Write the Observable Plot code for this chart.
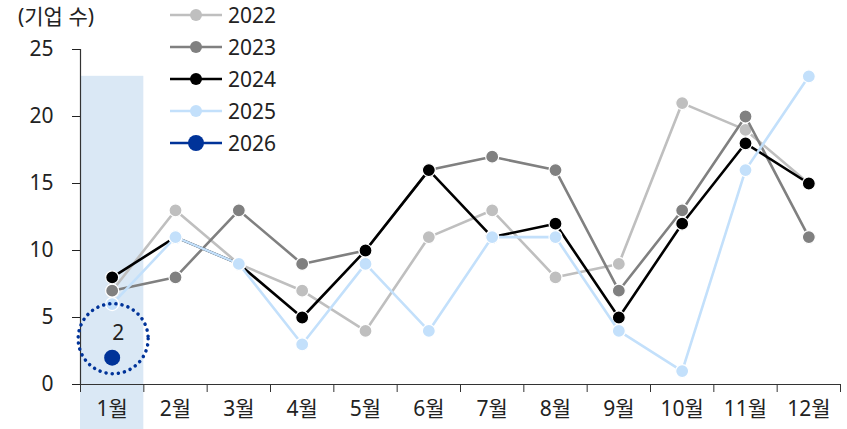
<!DOCTYPE html>
<html>
<head>
<meta charset="utf-8">
<script src="https://cdn.jsdelivr.net/npm/d3@7"></script>
<script src="https://cdn.jsdelivr.net/npm/@observablehq/plot@0.6"></script>
<style>
  html, body { margin: 0; padding: 0; background: #fff; }
  #chart { position: relative; width: 847px; height: 429px; }
  svg { font-family: "Noto Sans", "Noto Sans CJK KR", sans-serif; }
</style>
</head>
<body>
<div id="chart"></div>
<script>
const months = ["1월","2월","3월","4월","5월","6월","7월","8월","9월","10월","11월","12월"];
const years = ["2022","2023","2024","2025","2026"];
const v2022 = [7, 13, 9, 7, 4, 11, 13, 8, 9, 21, 19, 15];
const v2023 = [7, 8, 13, 9, 10, 16, 17, 16, 7, 13, 20, 11];
const v2024 = [8, 11, 9, 5, 10, 16, 11, 12, 5, 12, 18, 15];
const v2025 = [6, 11, 9, 3, 9, 4, 11, 11, 4, 1, 16, 23];
const v2026 = [2];
const colors = ["#bfbfbf", "#808080", "#000000", "#c3e0fb", "#003399"];
const yTicks = [0, 5, 10, 15, 20, 25];
const yLabel = "(기업 수)";
const highlightTop = 23;

const seriesVals = [v2022, v2023, v2024, v2025, v2026];
const data = [];
seriesVals.forEach((vals, s) => vals.forEach((v, i) => data.push({year: years[s], m: i + 1, v})));
const monthIdx = months.map((_, i) => i + 1);
const bounds = [0.5, ...monthIdx.map(i => i + 0.5)];

const FS = 21;
const marks = [
  Plot.rect([{m: 1}], {x1: d => d.m - 0.5, x2: d => d.m + 0.5, y1: 0, y2: highlightTop, fill: "#dae8f5", insetBottom: -45}),
  Plot.ruleY([0], {stroke: "#333", strokeWidth: 1.2}),
  Plot.ruleX([0.5], {y1: 0, y2: 25, stroke: "#333", strokeWidth: 1.2}),
  Plot.axisY({ticks: yTicks, tickSize: 8, tickPadding: 19, fontSize: FS, color: "#222", label: null, tickFormat: d => d}),
  Plot.axisX({ticks: bounds, tickSize: 8, tickFormat: () => "", label: null, color: "#333"}),
  Plot.axisX({ticks: monthIdx, tickSize: 0, tickPadding: 17, fontSize: FS, color: "#222", tickFormat: i => months[i - 1], label: null}),
];
years.slice(0, 4).forEach((y, s) => {
  const d = data.filter(r => r.year === y);
  marks.push(Plot.line(d, {x: "m", y: "v", stroke: colors[s], strokeWidth: 2.6}));
  marks.push(Plot.dot(d, {x: "m", y: "v", r: 6.5, fill: colors[s], stroke: "#fff", strokeWidth: 1.2}));
});
const d26 = data.filter(r => r.year === "2026");
marks.push(Plot.dot(d26, {x: "m", y: "v", r: 8, fill: colors[4]}));
marks.push(Plot.text(d26, {x: "m", y: "v", text: d => String(d.v), dx: 6, dy: -24, fontSize: FS, fill: "#222"}));
marks.push(Plot.dot(d26, {x: "m", y: "v", r: 35, dx: 1, dy: -19, fill: "none", stroke: colors[4], strokeWidth: 3.5, strokeDasharray: "0.1 6.1", strokeLinecap: "round"}));

const chart = Plot.plot({
  width: 847,
  height: 429,
  marginLeft: 80,
  marginRight: 7,
  marginTop: 49,
  marginBottom: 45,
  x: {type: "linear", domain: [0.5, 12.5], axis: null},
  y: {domain: [0, 25], axis: null},
  style: {fontFamily: '"Noto Sans", "Noto Sans CJK KR", sans-serif', background: "#fff"},
  marks
});
document.getElementById("chart").appendChild(chart);

const svg = d3.select(chart);
svg.append("text").attr("x", 18).attr("y", 24).attr("text-anchor", "start").attr("font-size", FS).attr("fill", "#222").text(yLabel);
const lg = svg.append("g").attr("text-anchor", "start");
years.forEach((y, s) => {
  const cy = 15 + s * 32;
  const g = lg.append("g");
  g.append("line").attr("x1", 170).attr("x2", 222).attr("y1", cy).attr("y2", cy)
    .attr("stroke", colors[s]).attr("stroke-width", 2.6);
  g.append("circle").attr("cx", 196).attr("cy", cy).attr("r", s === 4 ? 8 : 6).attr("fill", colors[s]);
  g.append("text").attr("x", 228).attr("y", cy).attr("dy", "0.36em").attr("text-anchor", "start").attr("font-size", FS).attr("fill", "#222").text(y);
});
</script>
</body>
</html>
